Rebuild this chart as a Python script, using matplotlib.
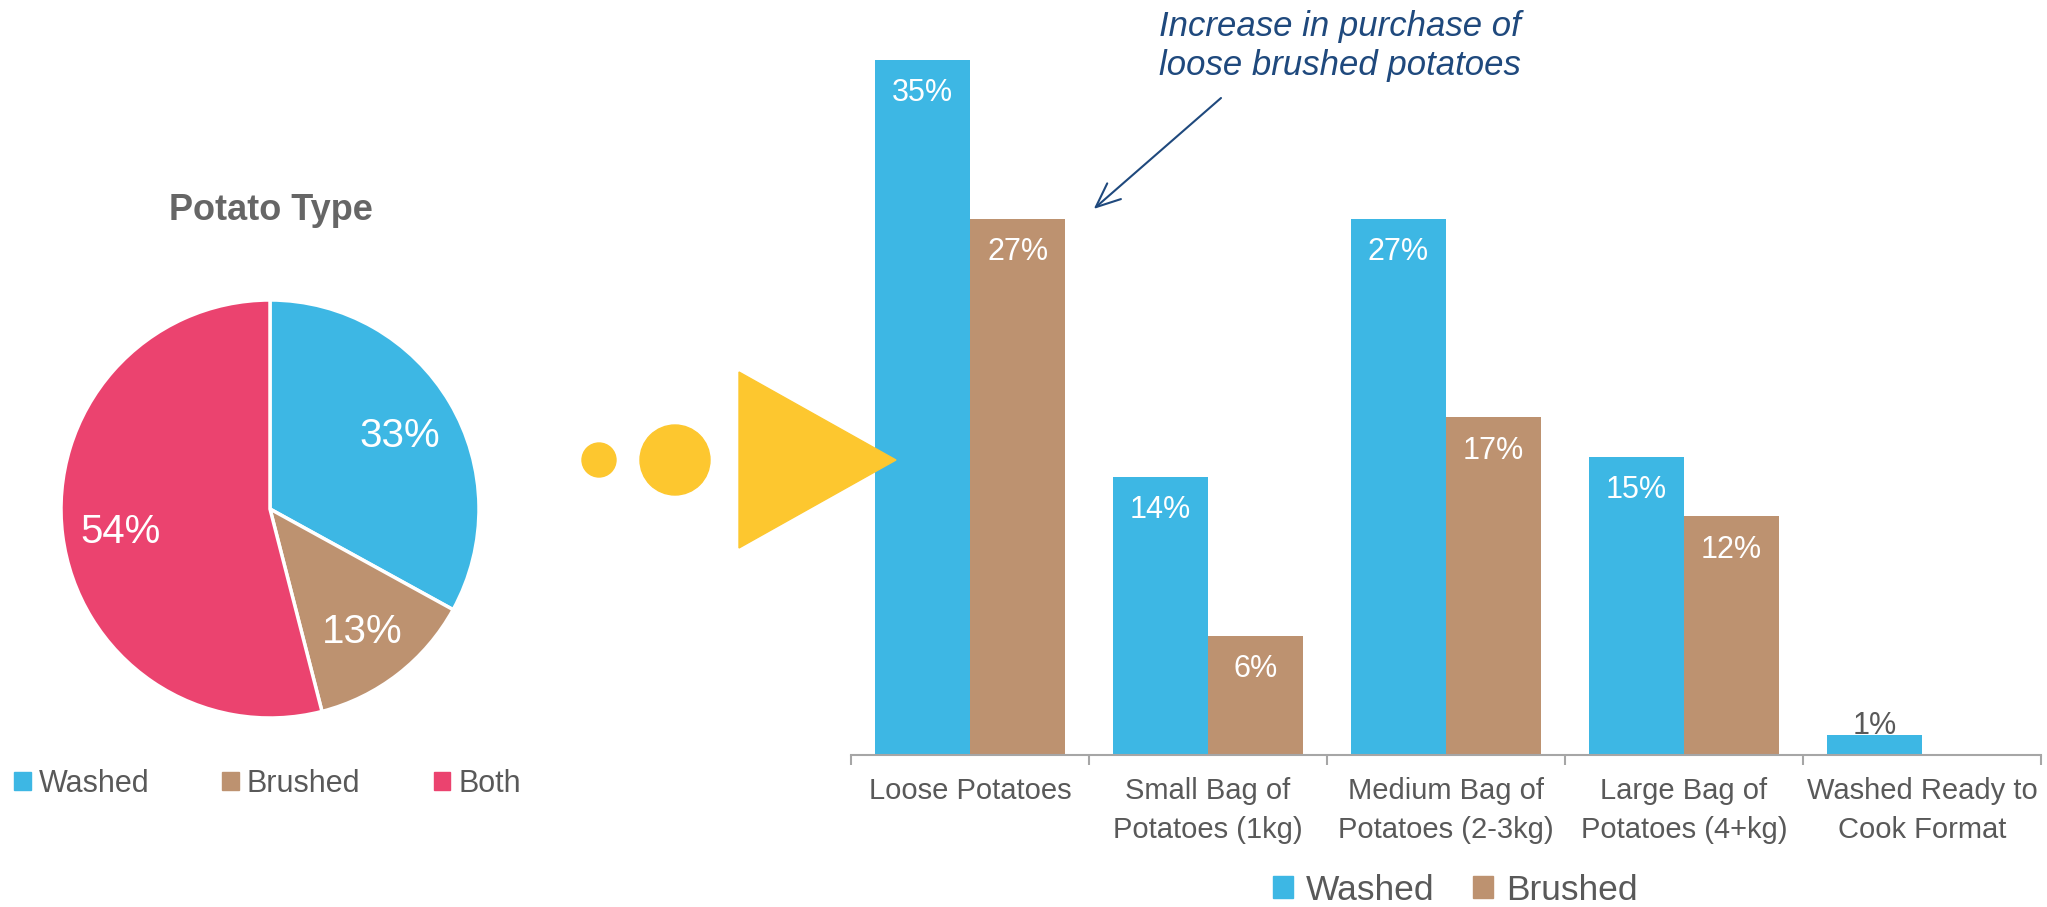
import matplotlib.pyplot as plt
import numpy as np
from matplotlib.patches import Circle, Patch, Polygon

W, H = 2047, 907

# share of shoppers by potato type
pie_labels = ['Washed', 'Brushed', 'Both']
pie_shares = [33, 13, 54]

# purchase format split
formats = ['Loose Potatoes', 'Small Bag of\nPotatoes (1kg)', 'Medium Bag of\nPotatoes (2-3kg)',
           'Large Bag of\nPotatoes (4+kg)', 'Washed Ready to\nCook Format']
washed = [35, 14, 27, 15, 1]
brushed = [27, 6, 17, 12, 0]

BLUE = '#3DB7E4'
BROWN = '#BD9270'
PINK = '#EB436F'
YELLOW = '#FDC72F'
GREY_TEXT = '#595959'
AXIS_GREY = '#A6A6A6'
NAVY = '#1F497D'

plt.rcParams['font.family'] = ['Liberation Sans', 'DejaVu Sans']


def box(x0, y0, x1, y1):
    # pixel rectangle (origin top-left) -> figure fraction rect
    return [x0 / W, 1 - y1 / H, (x1 - x0) / W, (y1 - y0) / H]


fig = plt.figure(figsize=(W / 100, H / 100), dpi=100)

# --- pie ---
r = 209
cx, cy = 270, 509
lim = 1.03
ax_pie = fig.add_axes(box(cx - r * lim, cy - r * lim, cx + r * lim, cy + r * lim))
_, _, autotexts = ax_pie.pie(pie_shares, colors=[BLUE, BROWN, PINK], startangle=90, counterclock=False,
                             autopct='%d%%', pctdistance=0.72,
                             wedgeprops=dict(edgecolor='white', linewidth=2.5),
                             textprops=dict(color='white', fontsize=29))
for t in autotexts:
    t.set_va('center_baseline')
ax_pie.set_xlim(-lim, lim)
ax_pie.set_ylim(-lim, lim)

fig.text(271 / W, 1 - 211 / H, 'Potato Type', ha='center', va='center',
         fontsize=26, fontweight='bold', color='#666666')

fig.legend(handles=[Patch(color=c, label=l) for c, l in zip([BLUE, BROWN, PINK], pie_labels)],
           loc='center left', bbox_to_anchor=(14 / W, 1 - 784 / H), ncol=3, frameon=False,
           fontsize=22, handlelength=0.55, handleheight=0.55, handletextpad=0.25,
           columnspacing=2.4, borderpad=0, borderaxespad=0, labelcolor=GREY_TEXT)

# --- bars ---
ax = fig.add_axes(box(851, 0.6, 2041, 754.6))
x = np.arange(len(formats))
w = 0.4
ax.bar(x - w / 2, washed, w, color=BLUE)
ax.bar(x + w / 2, brushed, w, color=BROWN)
ax.set_xlim(-0.5, len(formats) - 0.5)
ax.set_ylim(0, 38)
ax.patch.set_alpha(0)


def value_label(xpos, v):
    if v == 0:
        return
    if v >= 5:
        ax.annotate(f'{v}%', (xpos, v), xytext=(0, -24), textcoords='offset points',
                    ha='center', va='center', fontsize=22, color='white')
    else:
        ax.annotate(f'{v}%', (xpos, v), xytext=(0, 6), textcoords='offset points',
                    ha='center', va='center', fontsize=22, color=GREY_TEXT)


for xi, v in zip(x, washed):
    value_label(xi - w / 2, v)
for xi, v in zip(x, brushed):
    value_label(xi + w / 2, v)

for s in ['top', 'left', 'right']:
    ax.spines[s].set_visible(False)
ax.spines['bottom'].set_color(AXIS_GREY)
ax.spines['bottom'].set_linewidth(1.5)
ax.set_yticks([])
ax.set_xticks(x)
ax.set_xticklabels(formats, fontsize=21, color=GREY_TEXT, linespacing=1.5)
ax.set_xticks(np.arange(-0.5, len(formats)), minor=True)
ax.tick_params(axis='x', which='major', length=0, pad=16)
ax.tick_params(axis='x', which='minor', length=7.5, width=1.5, color=AXIS_GREY, direction='out')

fig.legend(handles=[Patch(color=BLUE, label='Washed'), Patch(color=BROWN, label='Brushed')],
           loc='center left', bbox_to_anchor=(1273 / W, 1 - 890 / H), ncol=2, frameon=False,
           fontsize=25.5, handlelength=0.57, handleheight=0.57, handletextpad=0.35,
           columnspacing=1.1, borderpad=0, borderaxespad=0, labelcolor=GREY_TEXT)

# callout
fig.text(1340 / W, 1 - 46 / H, 'Increase in purchase of\nloose brushed potatoes',
         ha='center', va='center', style='italic', fontsize=25, color=NAVY, linespacing=1.2)
ax.annotate('', xy=(0.52, 27.5), xycoords='data', xytext=(1221, H - 98), textcoords='figure pixels',
            arrowprops=dict(arrowstyle='->,head_length=0.7,head_width=0.3', color=NAVY,
                            lw=1.5, mutation_scale=25, shrinkA=0, shrinkB=0))

# --- connector shapes between the two charts ---
deco = fig.add_axes([0, 0, 1, 1])
deco.set_xlim(0, W)
deco.set_ylim(H, 0)
deco.axis('off')
deco.patch.set_alpha(0)
deco.add_patch(Circle((599, 460), 17, color=YELLOW))
deco.add_patch(Circle((675, 460), 35, color=YELLOW))
deco.add_patch(Polygon([(739, 372), (739, 548), (896, 460)], closed=True, color=YELLOW))

fig.savefig('out.png', dpi=100)
